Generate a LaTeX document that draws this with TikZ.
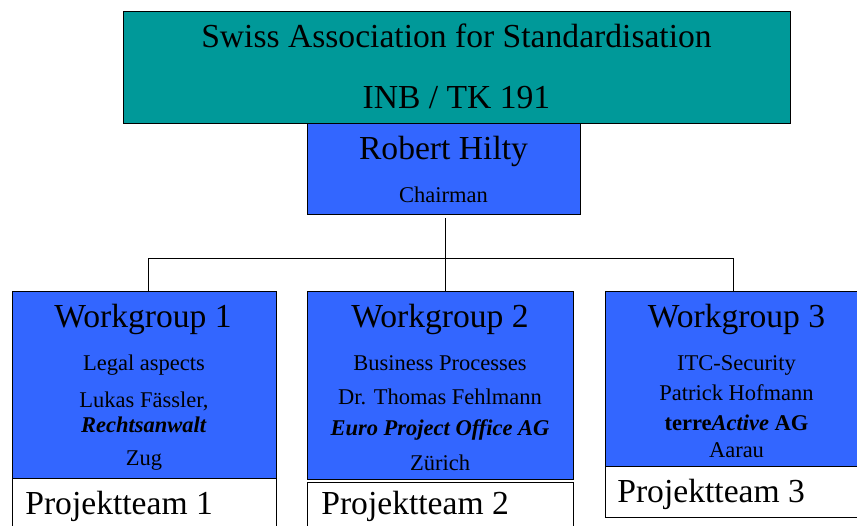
\documentclass[tikz,border=0pt]{standalone}
\usepackage{fontspec}
\setmainfont{Liberation Serif}
\usetikzlibrary{positioning}
\usetikzlibrary{calc}
\definecolor{SNV_teal}{HTML}{009999}
\definecolor{SNV_blau}{HTML}{3366FF}
\newcommand{\bigtext}{\fontsize{33.6}{40}\selectfont}
\newcommand{\smalltext}{\fontsize{22.5}{27}\selectfont}
\begin{document}
\begin{tikzpicture}[x=1pt, y=-1pt, line width=0.9pt]
\useasboundingbox (0,0) rectangle (857,525);
%\draw[step=50, very thin, red] (0,0) grid (857,525);

\node[draw, rectangle, minimum width=667, minimum height=112, fill=SNV_teal] (association) at (456.5,67) {};
\node[anchor=base] at ($ (association.north) + (0,37) $) {\bigtext Swiss Association for Standardisation};
\node[anchor=base] at ($ (association.north) + (0,98) $) {\bigtext INB / TK 191};

\node[draw, rectangle, minimum width=273, minimum height=91, fill=SNV_blau] (chairman) at (443.5,168.5) {};
\node[anchor=base] at ($ (chairman.north) + (0,37) $) {\bigtext Robert Hilty};
\node[anchor=base] at ($ (chairman.north) + (0,80) $) {\smalltext Chairman};

\node[draw, rectangle, minimum width=264, minimum height=187, fill=SNV_blau] (workgroup1) at (144,384.5) {};
\node[anchor=base] at ($ (workgroup1.north) + (-1,37) $) {\bigtext Workgroup 1};
\node[anchor=base] at ($ (workgroup1.north) + (0,80) $) {\smalltext Legal aspects};
\node[anchor=base] at ($ (workgroup1.north) + (0,117) $) {\smalltext Lukas Fässler,};
\node[anchor=base] at ($ (workgroup1.north) + (0,142) $) {\smalltext\textbf{\textit{Rechtsanwalt}}};
\node[anchor=base] at ($ (workgroup1.north) + (0,175) $) {\smalltext Zug};

\node[draw, rectangle, minimum width=266, minimum height=188, fill=SNV_blau] (workgroup2) at (440,385) {};
\node[anchor=base] at ($ (workgroup2.north) + (0,37) $) {\bigtext Workgroup 2};
\node[anchor=base] at ($ (workgroup2.north) + (0,80) $) {\smalltext Business Processes};
\node[anchor=base] at ($ (workgroup2.north) + (0,114) $) {\smalltext Dr. Thomas Fehlmann};
\node[anchor=base] at ($ (workgroup2.north) + (0,145) $) {\smalltext\textbf{\textit{Euro Project Office AG}}};
\node[anchor=base] at ($ (workgroup2.north) + (0,180) $) {\smalltext Zürich};

\node[draw, rectangle, minimum width=265, minimum height=175, fill=SNV_blau] (workgroup3) at (737.5,378.5) {};
\node[anchor=base] at ($ (workgroup3.north) + (-1,37) $) {\bigtext Workgroup 3};
\node[anchor=base] at ($ (workgroup3.north) + (-1,80) $) {\smalltext ITC-Security};
\node[anchor=base] at ($ (workgroup3.north) + (-1,110) $) {\smalltext Patrick Hofmann};
\node[anchor=base] at ($ (workgroup3.north) + (-1,140) $) {\smalltext\textbf{terre\textit{Active} AG}};
\node[anchor=base] at ($ (workgroup3.north) + (-1,167) $) {\smalltext Aarau};

\node[draw, rectangle, minimum width=264, minimum height=62, fill=white] (projektteam1) at (144,509) {};
\node[anchor=base west] at ($ (projektteam1.north west) + (10,37) $) {\bigtext Projektteam 1};
\node[draw, rectangle, minimum width=266, minimum height=58, fill=white] (projektteam2) at (440,511) {};
\node[anchor=base west] at ($ (projektteam2.north west) + (11,33) $) {\bigtext Projektteam 2};
\node[draw, rectangle, minimum width=265, minimum height=51, fill=white] (projektteam3) at (737.5,491.5) {};
\node[anchor=base west] at ($ (projektteam3.north west) + (9,37) $) {\bigtext Projektteam 3};

\coordinate (fork) at ($ (chairman.south) + (1.5,43.5) $);
\draw ($ (chairman.south) + (1.5,4) $) -- (fork);
\draw (fork) -| ($ (workgroup1.north) + (4,0) $);
\draw (fork) -- (workgroup2.north -| fork);
\draw (fork) -| ($ (workgroup3.north) + (-4.5,0) $);
\end{tikzpicture}
\end{document}
